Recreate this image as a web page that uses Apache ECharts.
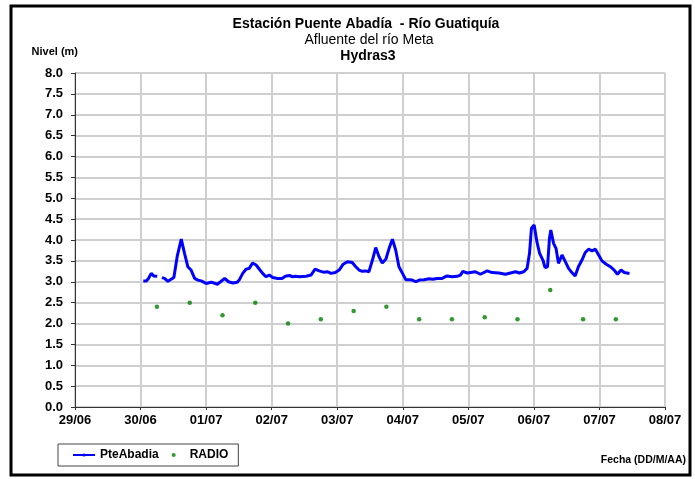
<!DOCTYPE html>
<html>
<head>
<meta charset="utf-8">
<script src="https://cdn.jsdelivr.net/npm/echarts@6/dist/echarts.min.js"></script>
<style>html,body{margin:0;padding:0;background:#fff;}#c{width:695px;height:479px;}</style>
</head>
<body>
<div id="c"></div>
<script>
// Tick labels (x axis: days, axis value is hours since 29/06 00:00)
var xTickLabels = ['29/06','30/06','01/07','02/07','03/07','04/07','05/07','06/07','07/07','08/07'];

// PteAbadia level series: time (hours since 29/06 00:00) and level (m); null = gap
var lineHours = [25.0,26.1,26.9,27.9,28.8,30.1,31.0,31.8,32.8,34.0,35.2,36.2,37.4,38.9,40.1,41.3,42.5,43.8,45.0,46.2,48.0,49.9,52.1,53.3,54.8,56.2,57.8,59.4,60.1,61.4,62.6,63.8,65.0,66.3,67.5,68.7,69.9,71.1,72.4,74.2,75.8,77.0,78.5,79.7,80.7,82.1,84.6,86.4,87.9,89.4,90.9,92.5,93.7,95.3,96.7,98.2,99.7,101.5,102.8,104.0,105.2,106.4,107.6,108.9,110.1,111.3,112.5,113.8,115.0,116.2,117.4,118.6,119.9,121.1,122.3,123.5,124.8,126.0,127.8,129.6,131.0,132.6,134.4,136.2,138.1,139.9,141.1,142.0,143.6,145.4,146.6,148.4,150.9,152.7,155.2,157.6,159.4,161.3,162.7,164.3,165.5,166.4,167.1,168.1,169.1,170.1,171.3,172.1,173.0,173.7,174.2,175.2,176.1,177.0,178.3,179.5,180.7,181.9,183.1,184.3,185.6,186.8,188.0,189.3,190.5,191.7,192.9,194.5,196.0,197.4,198.6,199.9,201.1,203.0];
var lineLevels = [3.02,3.02,3.08,3.20,3.14,3.13,null,3.10,3.08,3.01,3.06,3.10,3.60,4.02,3.68,3.36,3.28,3.08,3.04,3.02,2.96,2.99,2.94,3.00,3.08,3.00,2.97,2.99,3.04,3.20,3.30,3.32,3.45,3.40,3.30,3.20,3.12,3.16,3.10,3.08,3.08,3.13,3.15,3.12,3.13,3.12,3.13,3.16,3.30,3.26,3.23,3.24,3.20,3.22,3.28,3.42,3.48,3.46,3.36,3.28,3.25,3.26,3.24,3.52,3.82,3.60,3.45,3.54,3.80,4.02,3.76,3.36,3.20,3.05,3.05,3.04,3.00,3.04,3.05,3.07,3.06,3.08,3.08,3.14,3.12,3.13,3.16,3.25,3.21,3.23,3.24,3.18,3.26,3.22,3.21,3.18,3.21,3.24,3.21,3.24,3.32,3.68,4.28,4.36,3.96,3.68,3.52,3.34,3.36,4.04,4.24,3.92,3.80,3.44,3.64,3.48,3.32,3.22,3.14,3.36,3.52,3.70,3.78,3.74,3.78,3.64,3.50,3.42,3.36,3.28,3.18,3.28,3.22,3.20];

// RADIO readings
var radioHours = [30,42,54,66,78,90,102,114,126,138,150,162,174,186,198];
var radioLevels = [2.4,2.5,2.2,2.5,2.0,2.1,2.3,2.4,2.1,2.1,2.15,2.1,2.8,2.1,2.1];

var FONT = '"Liberation Sans", Arial, sans-serif';
var lineData = lineHours.map(function (h, i) { return [h, lineLevels[i] === null ? '-' : lineLevels[i]]; });
var radioData = radioHours.map(function (h, i) { return [h, radioLevels[i]]; });

var chart = echarts.init(document.getElementById('c'), null, {renderer: 'canvas'});
chart.setOption({
  backgroundColor: '#ffffff',
  animation: false,
  textStyle: {fontFamily: FONT},
  title: [
    {text: 'Estación Puente Abadía  - Río Guatiquía', left: 366, top: 17, textAlign: 'center', padding: 0,
     textStyle: {fontFamily: FONT, fontSize: 14, fontWeight: 'bold', color: '#000'}},
    {text: 'Afluente del río Meta', left: 369, top: 33, textAlign: 'center', padding: 0,
     textStyle: {fontFamily: FONT, fontSize: 14, fontWeight: 'normal', color: '#000'}},
    {text: 'Hydras3', left: 368, top: 49, textAlign: 'center', padding: 0,
     textStyle: {fontFamily: FONT, fontSize: 14, fontWeight: 'bold', color: '#000'}},
    {text: 'Fecha (DD/M/AA)', right: 9, top: 455, padding: 0,
     textStyle: {fontFamily: FONT, fontSize: 10.5, fontWeight: 'bold', color: '#000'}}
  ],
  grid: {left: 75, right: 30, top: 73, bottom: 72},
  legend: {
    left: 58, top: 444,
    orient: 'horizontal',
    padding: [5, 10, 5, 14],
    itemGap: 13,
    itemWidth: 22,
    itemHeight: 4,
    borderColor: '#444', borderWidth: 1,
    textStyle: {fontFamily: FONT, fontSize: 12, fontWeight: 'bold', color: '#000'},
    data: [{name: 'PteAbadia'}, {name: 'RADIO', icon: 'circle'}]
  },
  xAxis: {
    type: 'value', min: 0, max: 216, interval: 24,
    axisLine: {show: true, lineStyle: {color: '#333', width: 1}},
    axisTick: {show: true, length: 3, lineStyle: {color: '#333'}},
    splitLine: {show: true, lineStyle: {color: '#cfcfcf', width: 2}},
    axisLabel: {margin: 7, fontFamily: FONT, fontSize: 13, fontWeight: 'bold', color: '#000',
      formatter: function (v) { return xTickLabels[Math.round(v / 24)]; }}
  },
  yAxis: {
    type: 'value', min: 0, max: 8, interval: 0.5,
    name: 'Nivel (m)', nameLocation: 'end', nameGap: 16,
    nameTextStyle: {fontFamily: FONT, fontSize: 11, fontWeight: 'bold', color: '#000', align: 'right', padding: [0, -3, 0, 0]},
    axisLine: {show: true, lineStyle: {color: '#333', width: 1}},
    axisTick: {show: true, length: 4, lineStyle: {color: '#333'}},
    splitLine: {show: true, lineStyle: {color: '#cfcfcf', width: 2}},
    axisLabel: {margin: 12, fontFamily: FONT, fontSize: 13, fontWeight: 'bold', color: '#000',
      formatter: function (v) { return v.toFixed(1); }}
  },
  series: [
    {name: 'PteAbadia', type: 'line', data: lineData, showSymbol: false, symbol: 'none',
     connectNulls: false, smooth: false,
     lineStyle: {color: '#0000ff', width: 3}, itemStyle: {color: '#0000ff'}, z: 3},
    {name: 'RADIO', type: 'scatter', data: radioData, symbol: 'circle', symbolSize: 4.5,
     itemStyle: {color: '#008000'}, z: 4}
  ],
  graphic: [
    {type: 'rect', shape: {x: 11, y: 6, width: 679, height: 469}, silent: true,
     style: {fill: null, stroke: '#000', lineWidth: 3}, z: 100}
  ]
});
</script>
</body>
</html>
